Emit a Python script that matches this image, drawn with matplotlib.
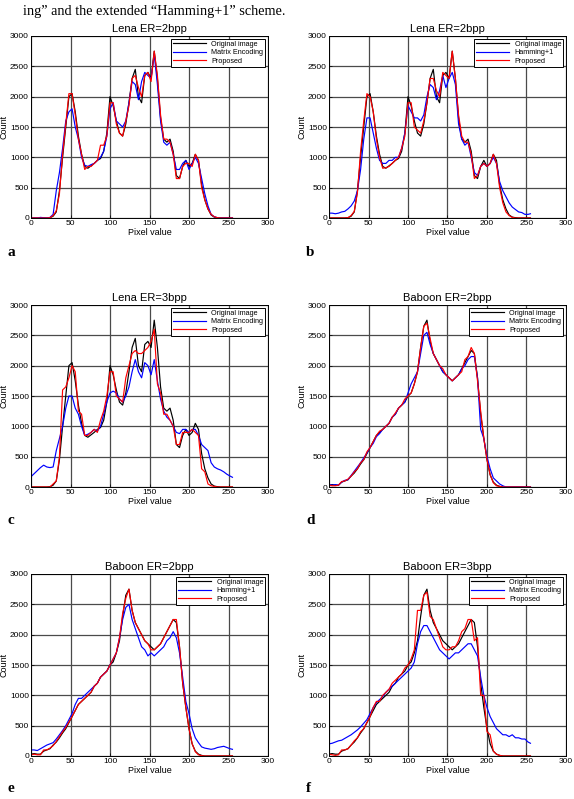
import matplotlib
matplotlib.use("Agg")
import matplotlib.pyplot as plt

plt.rcParams['font.family'] = ['Liberation Sans', 'DejaVu Sans']

pixel = list(range(0, 256, 4)) + [255]

lena_orig = [0,0,0,0,0,0,5,30,100,450,
             1000,1500,2000,2050,1750,1350,1050,850,820,860,
             900,950,980,1100,1400,2000,1850,1600,1400,1350,
             1550,1900,2300,2450,2000,1900,2350,2400,2300,2750,
             2300,1650,1300,1250,1300,1100,700,650,850,950,
             850,900,1050,950,550,300,150,50,15,5,
             0,0,0,0,0]
lena_matrix2 = [0,0,0,10,5,0,10,60,450,750,
                1150,1600,1750,1800,1500,1300,1000,870,850,880,
                900,950,1000,1100,1350,1800,1900,1600,1550,1500,
                1600,1900,2250,2200,1950,2250,2400,2350,2300,2700,
                2200,1600,1250,1200,1250,1050,800,800,900,950,
                800,900,1000,900,650,400,200,60,20,5,
                0,0,0,0,0]
lena_prop2a = [0,0,0,0,0,0,5,40,120,400,
               1050,1550,2050,2050,1700,1300,1050,800,850,850,
               900,950,1200,1200,1350,1900,1900,1550,1400,1350,
               1600,1850,2300,2350,2150,2000,2350,2400,2250,2750,
               2350,1700,1300,1300,1250,1050,650,650,850,900,
               900,850,1050,950,500,300,150,60,20,5,
               0,0,0,0,0]
lena_hamming = [80,80,70,80,100,110,150,200,280,450,
                800,1300,1650,1650,1400,1150,950,900,900,950,
                950,1000,1000,1150,1400,1850,1750,1650,1650,1600,
                1700,2000,2200,2150,1950,2100,2350,2150,2300,2400,
                2200,1550,1300,1200,1250,1000,750,700,850,900,
                850,900,1000,900,600,450,350,250,180,140,
                100,90,60,60,70]
lena_prop2b = [0,0,0,0,0,0,5,40,110,420,
               1100,1600,2050,2000,1750,1300,1000,820,830,850,
               900,950,1000,1150,1350,1900,1900,1500,1450,1400,
               1600,1900,2300,2300,2100,2000,2400,2350,2300,2750,
               2300,1700,1350,1250,1250,1050,650,700,850,900,
               850,900,1050,900,500,250,100,40,10,0,
               0,0,0,0,0]
lena_matrix3 = [170,220,270,320,360,330,320,330,600,800,
                1000,1300,1500,1500,1300,1200,1000,850,870,900,
                950,920,1000,1200,1400,1550,1580,1550,1450,1400,
                1500,1650,1900,2100,1900,1800,2050,2000,1850,2100,
                1750,1450,1250,1150,1100,1000,900,880,950,950,
                900,950,950,850,700,650,600,400,330,300,
                280,250,210,180,160]
lena_prop3 = [0,0,0,0,0,0,0,50,100,500,
              1600,1650,1800,2000,1900,1250,1200,850,850,900,
              950,900,1100,1250,1500,1900,1900,1500,1450,1400,
              1800,2000,2200,2250,2200,2200,2250,2300,2400,2600,
              1700,1550,1200,1200,1100,1000,700,700,900,900,
              900,950,900,850,300,250,50,20,10,0,
              0,0,0,0,0]

baboon_orig = [30,40,30,30,80,100,120,180,230,300,
               380,450,550,650,750,850,900,950,1000,1050,
               1150,1200,1300,1350,1400,1500,1550,1700,1900,2300,
               2650,2750,2400,2200,2100,2000,1900,1850,1800,1750,
               1800,1850,1950,2050,2150,2250,2200,1800,1200,800,
               450,200,80,30,10,0,0,0,0,0,
               0,0,0,0,0]
baboon_matrix2 = [40,30,40,30,80,110,120,190,260,330,
                  400,480,560,650,720,830,880,950,1000,1050,
                  1150,1200,1300,1350,1400,1550,1700,1800,1900,2200,
                  2500,2550,2350,2200,2100,2000,1900,1850,1800,1750,
                  1800,1850,1950,2000,2100,2150,2150,1800,950,800,
                  500,300,150,100,50,20,0,0,0,0,
                  0,0,0,0,0]
baboon_prop2d = [30,20,20,30,90,100,130,180,250,300,
                 400,450,580,650,750,850,920,950,1000,1050,
                 1150,1220,1300,1350,1450,1500,1550,1700,1900,2300,
                 2650,2700,2450,2200,2100,2000,1950,1850,1800,1750,
                 1800,1850,1900,2100,2150,2300,2200,1750,1250,800,
                 450,200,70,20,10,0,0,0,0,0,
                 0,0,0,0,0]
baboon_hamming = [100,100,90,120,150,180,200,220,280,350,
                  420,500,600,700,850,950,950,1000,1050,1100,
                  1150,1200,1300,1350,1400,1500,1600,1700,1950,2250,
                  2450,2500,2250,2100,1950,1800,1750,1650,1700,1650,
                  1700,1750,1800,1900,1950,2050,1950,1700,1300,900,
                  700,450,300,220,150,130,120,110,120,140,
                  150,160,140,120,110]
baboon_prop2e = [20,30,20,20,100,100,130,170,240,320,
                 400,470,560,650,750,850,900,950,1000,1050,
                 1150,1200,1300,1350,1400,1500,1600,1700,1950,2350,
                 2600,2750,2400,2200,2100,2000,1900,1850,1750,1750,
                 1800,1850,1950,2050,2150,2250,2250,1800,1200,800,
                 450,200,70,20,5,0,0,0,0,0,
                 0,0,0,0,0]
baboon_matrix3 = [200,210,230,250,260,290,320,350,390,430,
                  480,540,600,700,800,880,930,980,1050,1100,
                  1150,1200,1250,1300,1350,1400,1450,1550,1850,2050,
                  2150,2150,2050,1950,1850,1750,1700,1650,1600,1650,
                  1700,1700,1750,1800,1850,1850,1750,1650,1300,1000,
                  800,650,550,450,400,350,350,320,350,300,
                  300,280,280,230,210]
baboon_prop3 = [30,20,10,20,100,100,120,180,250,300,
                400,450,550,650,800,900,900,1000,1050,1100,
                1200,1250,1300,1350,1450,1500,1600,1750,2400,2400,
                2650,2700,2300,2250,2100,1950,1800,1750,1750,1800,
                1800,1900,2050,2100,2250,2250,1900,1950,1000,1000,
                400,350,80,30,10,0,0,0,0,0,
                0,0,0,0,0]

titles = ['Lena ER=2bpp', 'Lena ER=2bpp', 'Lena ER=3bpp',
          'Baboon ER=2bpp', 'Baboon ER=2bpp', 'Baboon ER=3bpp']
method_names = ['Matrix Encoding', 'Hamming+1', 'Matrix Encoding',
                'Matrix Encoding', 'Hamming+1', 'Matrix Encoding']
panel_letters = ['a', 'b', 'c', 'd', 'e', 'f']
originals = [lena_orig, lena_orig, lena_orig, baboon_orig, baboon_orig, baboon_orig]
methods = [lena_matrix2, lena_hamming, lena_matrix3, baboon_matrix2, baboon_hamming, baboon_matrix3]
proposed = [lena_prop2a, lena_prop2b, lena_prop3, baboon_prop2d, baboon_prop2e, baboon_prop3]

W, H = 574, 799
fig = plt.figure(figsize=(W / 100, H / 100), dpi=100)

# panel boxes in pixels: left, right, top, bottom
boxes = [(31, 268, 36, 218), (329, 566, 36, 218),
         (31, 268, 305, 487), (329, 566, 305, 487),
         (31, 268, 574, 756), (329, 566, 574, 756)]
letter_pos = [(8, 252), (306, 252), (8, 521), (306, 521), (8, 789), (306, 789)]

fig.text(23 / W, 1 - 12 / H, 'ing\u201d and the extended \u201cHamming+1\u201d scheme.',
         family='Liberation Serif', fontsize=10.3, va='center', ha='left')

for i in range(6):
    l, r, t, b = boxes[i]
    ax = fig.add_axes([l / W, 1 - b / H, (r - l) / W, (b - t) / H])
    ax.plot(pixel, originals[i], color='black', lw=0.85, label='Original image')
    ax.plot(pixel, methods[i], color='blue', lw=0.85, label=method_names[i])
    ax.plot(pixel, proposed[i], color='red', lw=0.85, label='Proposed')
    ax.set_xlim(0, 300)
    ax.set_ylim(0, 3000)
    ax.set_xticks(range(0, 301, 50))
    ax.set_yticks(range(0, 3001, 500))
    ax.grid(True, color='#4a4a4a', lw=0.9)
    ax.set_axisbelow(True)
    ax.tick_params(direction='in', length=2, width=0.5, labelsize=6, pad=1.5)
    for s in ax.spines.values():
        s.set_linewidth(0.7)
    ax.set_title(titles[i], fontsize=8, pad=3)
    ax.set_xlabel('Pixel value', fontsize=6.5, labelpad=0.5)
    ax.set_ylabel('Count', fontsize=6.5, labelpad=1)
    leg = ax.legend(loc='upper right', fontsize=5.2, handlelength=4.5,
                    borderaxespad=0.35, labelspacing=0.2, borderpad=0.3,
                    fancybox=False, framealpha=1, edgecolor='black')
    leg.get_frame().set_linewidth(0.7)
    lx, ly = letter_pos[i]
    fig.text(lx / W, 1 - ly / H, panel_letters[i], family='Liberation Serif',
             fontweight='bold', fontsize=11, va='center', ha='left')

plt.savefig('out.png', dpi=100)
